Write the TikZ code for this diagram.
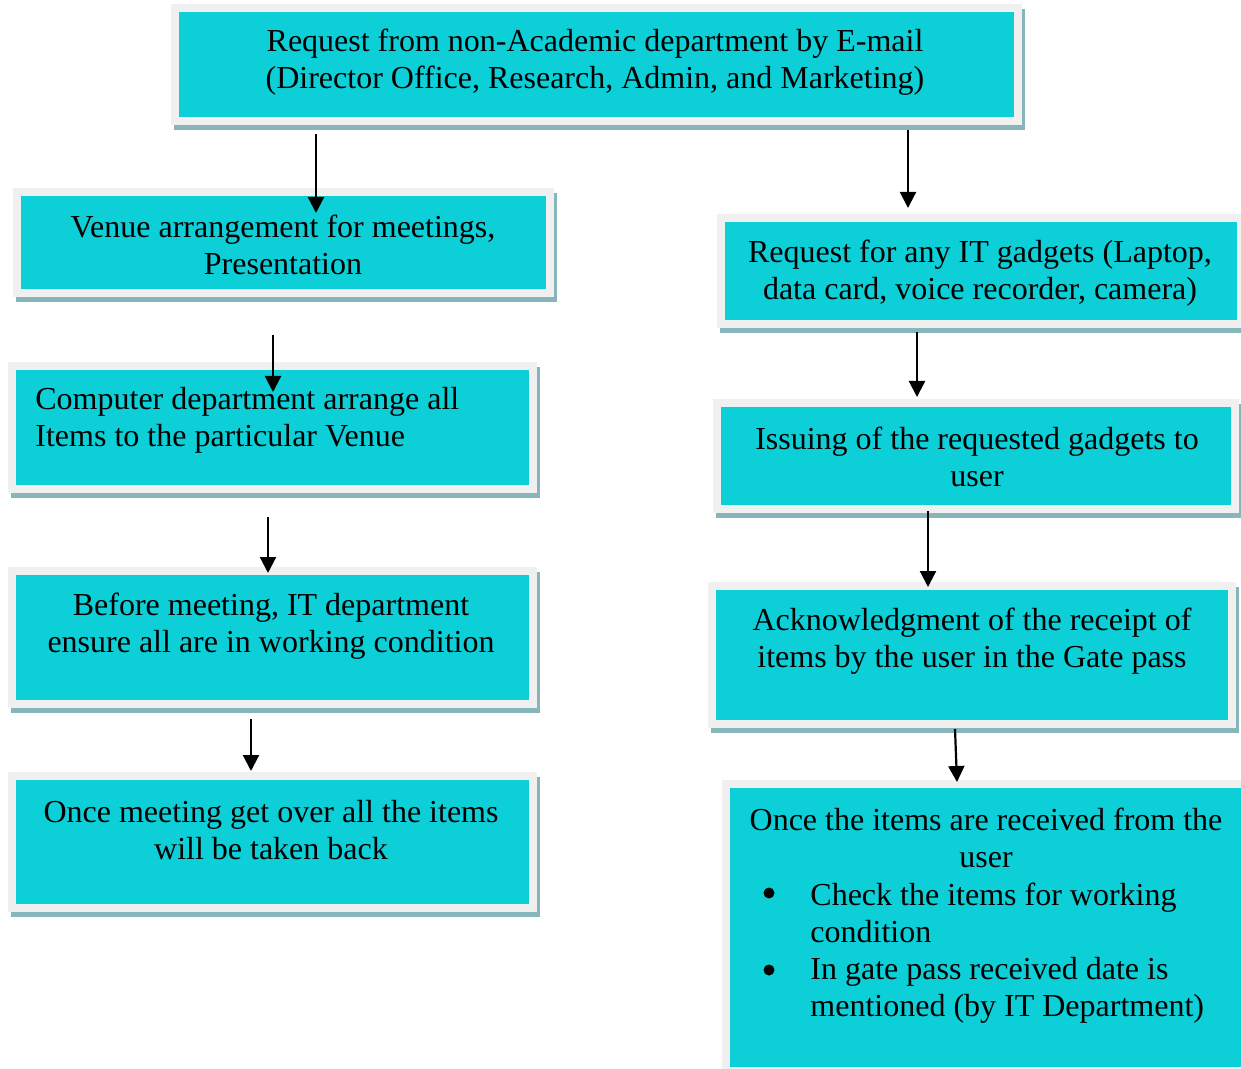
\documentclass[tikz,border=0pt]{standalone}
\usepackage{fontspec}
\setmainfont{Liberation Serif}
\usetikzlibrary{fit,calc,arrows.meta}

\definecolor{boxcyan}{HTML}{0DCFD8}
\definecolor{framegray}{HTML}{F0F0F0}
\definecolor{shadowcol}{HTML}{86B6B9}

\tikzset{
  stage/.style={draw=framegray, line width=4pt, fill=boxcyan, inner sep=0pt, outer sep=0pt},
  txt/.style={inner sep=0pt, font=\fontsize{16}{18.4}\selectfont, align=center},
  dot/.style={circle, fill=black, inner sep=0pt, minimum size=5.5pt},
  arr/.style={line width=1.1pt, -{Triangle[width=8pt,length=8pt]}},
}

% \stagebox{name}{left}{top}{right}{bottom}: framed box with a drop shadow
\newcommand\stagebox[5]{%
  \fill[shadowcol] (#2+3,#3+5) rectangle (#4+3,#5+5);
  \node[stage, fit={(#2+4,#3+4) (#4-4,#5-4)}] (#1) {};}

\begin{document}
\begin{tikzpicture}[x=0.5pt, y=-0.5pt]
\useasboundingbox (0,0) rectangle (1241,1069);

% boxes
\stagebox{b1}{171}{4}{1022}{125}
\stagebox{b2}{13}{188}{554}{297}
\stagebox{b3}{8}{362}{537}{493}
\stagebox{b4}{8}{567}{537}{708}
\stagebox{b5}{8}{772}{537}{912}
\stagebox{r1}{717}{214}{1245}{328}
\stagebox{r2}{713}{399}{1239}{513}
\stagebox{r3}{708}{582}{1236}{728}
\stagebox{r4}{722}{780}{1250}{1075}

% texts
\node[txt] (t1) at (595,62) {Request from non-Academic department by E-mail\\(Director Office, Research, Admin, and Marketing)};
\node[txt] (t2) at (283,245) {Venue arrangement for meetings,\\Presentation};
\node[txt, align=left, anchor=west] (t3) at (35,420) {Computer department arrange all\\Items to the particular Venue};
\node[txt] (t4) at (271,626) {Before meeting, IT department\\ensure all are in working condition};
\node[txt] (t5) at (271,830) {Once meeting get over all the items\\will be taken back};
\node[txt] (u1) at (980,273) {Request for any IT gadgets (Laptop,\\data card, voice recorder, camera)};
\node[txt] (u2) at (977,457) {Issuing of the requested gadgets to\\user};
\node[txt] (u3) at (972,641) {Acknowledgment of the receipt of\\items by the user in the Gate pass};
\node[txt] (u4) at (986,838) {Once the items are received from the\\user};
\node[txt, align=left, anchor=west] (u4a) at (810,913) {Check the items for working\\condition};
\node[txt, align=left, anchor=west] (u4b) at (810,990) {In gate pass received date is\\mentioned (by IT Department)};
\node[dot] (d1) at (769,893) {};
\node[dot] (d2) at (769,970) {};

% arrow columns
\coordinate (x1) at (316,0);
\coordinate (x2) at (908,0);
\coordinate (x3) at (273,0);
\coordinate (x4) at (268,0);
\coordinate (x5) at (251,0);
\coordinate (x6) at (917,0);
\coordinate (x7) at (928,0);
\coordinate (x8) at (955,0);
\coordinate (x9) at (957,0);

% connectors
\draw[arr] ($(b1.south -| x1)+(0,13)$) -- ($(b2.north -| x1)+(0,21)$);
\draw[arr] ($(b1.south -| x2)+(0,9)$)  -- ($(r1.north -| x2)+(0,-10)$);
\draw[arr] ($(b2.south -| x3)+(0,42)$) -- ($(b3.north -| x3)+(0,26)$);
\draw[arr] ($(b3.south -| x4)+(0,28)$) -- ($(b4.north -| x4)+(0,2)$);
\draw[arr] ($(b4.south -| x5)+(0,15)$) -- ($(b5.north -| x5)+(0,-5)$);
\draw[arr] ($(r1.south -| x6)+(0,8)$)  -- ($(r2.north -| x6)+(0,-6)$);
\draw[arr] ($(r2.south -| x7)+(0,2)$)  -- ($(r3.north -| x7)+(0,1)$);
\draw[arr] ($(r3.south -| x8)+(0,5)$)  -- ($(r4.north -| x9)+(0,-2)$);
\end{tikzpicture}
\end{document}
